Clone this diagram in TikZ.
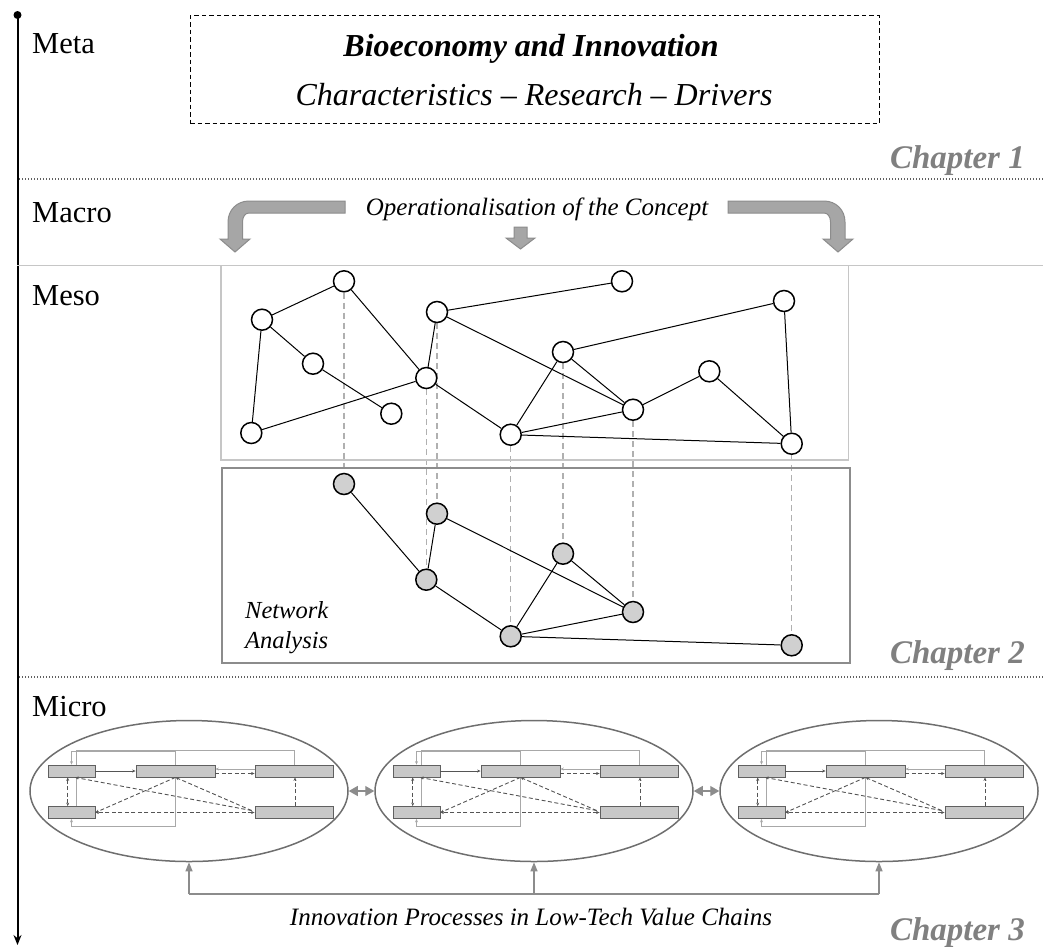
\documentclass[tikz,border=0pt]{standalone}
\usepackage{fontspec}
\setmainfont{Liberation Serif}
\usetikzlibrary{shapes.geometric,arrows.meta}
\definecolor{chapgray}{HTML}{808080}
\definecolor{nodegray}{HTML}{D0D0D0}
\definecolor{boxfill}{HTML}{C8C8C8}
\definecolor{boxdraw}{HTML}{606060}
\definecolor{ellgray}{HTML}{6E6E6E}
\definecolor{arrowfill}{HTML}{A6A6A6}
\definecolor{arrowdraw}{HTML}{8C8C8C}
\definecolor{linkgray}{HTML}{B0B0B0}
\definecolor{lowbox}{HTML}{8C8C8C}
\definecolor{upbox}{HTML}{C6C6C6}
\definecolor{dotgray}{HTML}{606060}
\definecolor{innerdark}{HTML}{555555}
\definecolor{innerlight}{HTML}{A8A8A8}
\pgfdeclarelayer{bg}
\pgfsetlayers{bg,main}
\tikzset{
  lbl/.style={font=\fontsize{30.5}{36}\selectfont, anchor=base west, inner sep=0},
  chap/.style={font=\fontsize{33}{38}\selectfont\bfseries\itshape, text=chapgray, anchor=base east, inner sep=0},
  wnode/.style={circle, draw, line width=1.5, fill=white, minimum size=21, inner sep=0},
  gnode/.style={wnode, fill=nodegray},
  netedge/.style={line width=1},
  vlink/.style={draw=linkgray, line width=1.4, dash pattern=on 6 off 4},
  bigarrow/.style={fill=arrowfill, draw=arrowdraw, line width=1},
  pbox/.style={rectangle, draw=boxdraw, fill=boxfill, line width=0.8, inner sep=0, minimum height=12},
  dotline/.style={draw=dotgray, line width=1.3, dash pattern=on 1.4 off 1.6},
  loopline/.style={draw=innerlight, line width=0.8},
  dline/.style={draw=innerdark, line width=0.9, dash pattern=on 4 off 2.5},
  sline/.style={draw=innerdark, line width=0.9},
  tip/.style={-{Stealth[length=3.5,width=3]}},
  btip/.style={{Stealth[length=3.5,width=3]}-{Stealth[length=3.5,width=3]}},
  grayconn/.style={draw=arrowdraw, line width=1.2},
}
\begin{document}
\begin{tikzpicture}[x=1pt,y=-1pt]
\useasboundingbox (0,0) rectangle (1043,946);

% vertical axis
\coordinate (axtop) at (17.5,15);
\coordinate (axbot) at (17.5,945);
\draw[line width=2, -{Stealth[length=10,width=8]}] (axtop) -- (axbot);
\fill (axtop) circle (4);

% level labels
\node[lbl] (lmeta) at (32,53) {Meta};
\node[lbl] (lmacro) at (32,222) {Macro};
\node[lbl] (lmeso) at (32,305) {Meso};
\node[lbl] (lmicro) at (32,716) {Micro};

% meta box
\node[draw, dash pattern=on 4.5 off 3, line width=1, minimum width=689, minimum height=108, inner sep=0] (metabox) at (534.7,69.5) {};
\node[font=\fontsize{32}{38}\selectfont\bfseries\itshape, anchor=base, inner sep=0] (title) at (531,56.7) {Bioeconomy and Innovation};
\node[font=\fontsize{32}{38}\selectfont\itshape, anchor=base, inner sep=0] (subtitle) at (534,105) {Characteristics -- Research -- Drivers};

% chapters and separators
\node[chap] (ch1) at (1025,168) {Chapter 1};
\coordinate (d1l) at (19,179);
\coordinate (d1r) at (1043,179);
\draw[dotline] (d1l) -- (d1r);
\node[chap] (ch2) at (1025,663) {Chapter 2};
\coordinate (d2l) at (19,677);
\coordinate (d2r) at (1043,677);
\draw[dotline] (d2l) -- (d2r);
\node[chap] (ch3) at (1025,940) {Chapter 3};

% macro
\node[font=\fontsize{25}{30}\selectfont\itshape, anchor=base, inner sep=0] (oper) at (537,215) {Operationalisation of the Concept};
\draw[bigarrow] (345,201) -- (249,201) .. controls (237,201) and (228,210) .. (228,222) -- (228,239) -- (220,239) -- (235,252) -- (250,239) -- (242.5,239) -- (242.5,222) .. controls (242.5,217) and (245,213) .. (249,213) -- (345,213) -- cycle;
\draw[bigarrow] (728,201) -- (824,201) .. controls (836,201) and (845,210) .. (845,222) -- (845,239) -- (853,239) -- (838,252) -- (823,239) -- (830.5,239) -- (830.5,222) .. controls (830.5,217) and (828,213) .. (824,213) -- (728,213) -- cycle;
\draw[bigarrow] (514,227) -- (527,227) -- (527,238) -- (535,238) -- (520.5,249) -- (506,238) -- (514,238) -- cycle;

% meso separator and boxes
\coordinate (hl) at (17,265.5);
\coordinate (hr) at (1043,265.5);
\draw[draw=upbox, line width=1.2] (hl) -- (hr);
\draw[draw=upbox, line width=1.2] (221,265.5) rectangle (848.5,460);
\draw[draw=lowbox, line width=2] (221.5,467.5) rectangle (849.5,662.5);

% upper network
\node[wnode] (A) at (344,281.3) {};
\node[wnode] (B) at (262,319.7) {};
\node[wnode] (C) at (313,363.7) {};
\node[wnode] (D) at (391.3,413.7) {};
\node[wnode] (E) at (251.3,433) {};
\node[wnode] (F) at (426.3,378) {};
\node[wnode] (G) at (437,312) {};
\node[wnode] (H) at (622,281.3) {};
\node[wnode] (I) at (784,301) {};
\node[wnode] (J) at (563,352) {};
\node[wnode] (K) at (709.3,371.3) {};
\node[wnode] (L) at (633,409.7) {};
\node[wnode] (M) at (510.7,434.7) {};
\node[wnode] (N) at (791.7,443.7) {};

% lower network
\node[gnode] (a) at (344,484) {};
\node[gnode] (g) at (437,513.7) {};
\node[gnode] (f) at (426.3,579.7) {};
\node[gnode] (j) at (563,553.7) {};
\node[gnode] (l) at (633,612) {};
\node[gnode] (m) at (510.7,636.3) {};
\node[gnode] (n) at (791.7,645.3) {};

\begin{pgfonlayer}{bg}
\foreach \u/\v in {A/a,F/f,G/g,M/m,J/j,L/l,N/n}{
  \draw[vlink] (\u) -- (\v);
}
\end{pgfonlayer}

\foreach \u/\v in {B/A,A/F,B/C,C/D,B/E,E/F,F/G,G/H,G/L,F/M,J/I,J/M,J/L,L/K,K/N,I/N,M/L,M/N}{
  \draw[netedge] (\u) -- (\v);
}
\foreach \u/\v in {a/f,g/f,g/l,f/m,j/m,j/l,m/l,m/n}{
  \draw[netedge] (\u) -- (\v);
}

\node[font=\fontsize{24.5}{30}\selectfont\itshape, anchor=base west, inner sep=0] (net1) at (245,618.7) {Network};
\node[font=\fontsize{24.5}{30}\selectfont\itshape, anchor=base west, inner sep=0] (net2) at (245,648.7) {Analysis};

% micro
\foreach \i/\dx in {1/0,2/345,3/690}{
  \begin{scope}[xshift=\dx pt]
    \node[ellipse, draw=ellgray, line width=1.5, minimum width=318, minimum height=141, inner sep=0] (el\i) at (189,791) {};
    \node[pbox, minimum width=47] (pa\i) at (71.5,771) {};
    \node[pbox, minimum width=79] (pb\i) at (175.5,771) {};
    \node[pbox, minimum width=78] (pc\i) at (294,771) {};
    \node[pbox, minimum width=47] (pd\i) at (71.5,812.5) {};
    \node[pbox, minimum width=78] (pe\i) at (294,812.5) {};
    \begin{pgfonlayer}{bg}
      \draw[loopline, btip] (pa\i.north) -- ++(0,-13) -| (175,826.7) -| (pd\i.south);
      \draw[loopline] (pc\i.north) -- ++(0,-14.3) -| ([xshift=5.2pt]pd\i.north);
    \end{pgfonlayer}
    \draw[sline, tip] (pa\i.east) -- (pb\i.west);
    \draw[loopline, tip] ([yshift=2pt]pc\i.west) -- ([yshift=2pt]pb\i.east);
    \draw[dline, tip] ([yshift=-2.5pt]pb\i.east) -- ([yshift=-2.5pt]pc\i.west);
    \draw[dline, btip] ([xshift=-3.8pt]pa\i.south) -- ([xshift=-3.8pt]pd\i.north);
    \draw[dline, tip] ([xshift=-3pt,yshift=2pt]pe\i.west) -- ([xshift=3.5pt]pa\i.south);
    \draw[dline, tip] (pb\i.south) -- (pd\i.east);
    \draw[dline, tip] ([xshift=-3pt,yshift=2pt]pe\i.west) -- (pb\i.south);
    \draw[dline, btip] (pe\i.west) -- (pd\i.east);
    \draw[dline, tip] ([xshift=1pt]pe\i.north) -- ([xshift=1pt]pc\i.south);
  \end{scope}
}

\draw[grayconn, {Triangle[length=9,width=10]}-{Triangle[length=9,width=10]}] (el1.east) -- (el2.west);
\draw[grayconn, {Triangle[length=9,width=10]}-{Triangle[length=9,width=10]}] (el2.east) -- (el3.west);

\coordinate (hb) at (534,894);
\draw[grayconn] (el1.south |- hb) -- (el3.south |- hb);
\foreach \i in {1,2,3}{
  \draw[grayconn, -{Triangle[length=9,width=7]}] (el\i.south |- hb) -- (el\i.south);
}
\node[font=\fontsize{25}{30}\selectfont\itshape, anchor=base, inner sep=0] (ipl) at (531,925) {Innovation Processes in Low-Tech Value Chains};

\end{tikzpicture}
\end{document}
